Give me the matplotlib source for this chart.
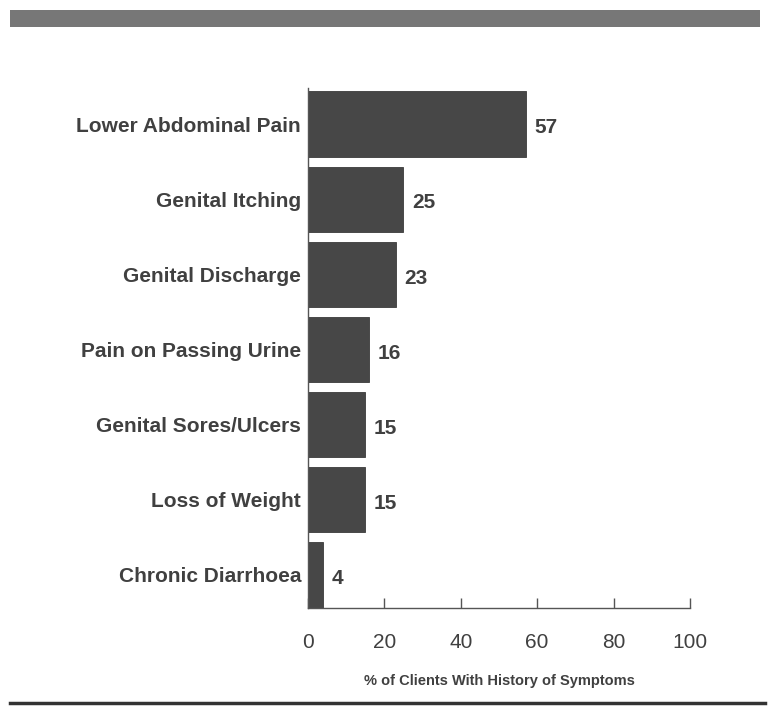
import matplotlib
matplotlib.use("Agg")
import matplotlib.pyplot as plt
from matplotlib.patches import Rectangle
from matplotlib.lines import Line2D

categories = ["Lower Abdominal Pain", "Genital Itching", "Genital Discharge",
              "Pain on Passing Urine", "Genital Sores/Ulcers", "Loss of Weight",
              "Chronic Diarrhoea"]
values = [57, 25, 23, 16, 15, 15, 4]
xticks = [0, 20, 40, 60, 80, 100]
xlabel = "% of Clients With History of Symptoms"

plt.rcParams['font.family'] = ['Liberation Sans', 'DejaVu Sans']

fig = plt.figure(figsize=(7.7, 7.07), dpi=100)
ax = fig.add_axes([0.4, 0.14, 0.496, 0.7355])

bar_color = "#474747"
text_color = "#404040"
ypos = list(range(len(categories)))
ax.barh(ypos, values, height=0.87, color=bar_color, edgecolor="#3a3a3a", linewidth=0.6)
for y, v in zip(ypos, values):
    ax.text(v + 2.3, y + 0.05, str(v), va="center", ha="left", fontsize=15,
            fontweight="bold", color=text_color)

ax.set_ylim(6.44, -0.48)
ax.set_xlim(0, 100)
ax.set_yticks(ypos)
ax.set_yticklabels(categories, fontsize=15, fontweight="bold", color=text_color)
ax.tick_params(axis="y", length=0, pad=5)
ax.set_xticks(xticks)
ax.set_xticklabels([str(t) for t in xticks], fontsize=15, color=text_color)
ax.tick_params(axis="x", direction="in", length=7, width=1, color="#555555", pad=18)
ax.set_xlabel(xlabel, fontsize=10.5, fontweight="bold", color=text_color, labelpad=16)
for s in ["top", "right"]:
    ax.spines[s].set_visible(False)
for s in ["left", "bottom"]:
    ax.spines[s].set_color("#555555")
    ax.spines[s].set_linewidth(1)

# decorative top band and bottom rule
fig.patches.append(Rectangle((10 / 770, 1 - 27 / 707), 750 / 770, 17 / 707,
                             transform=fig.transFigure, facecolor="#777777",
                             edgecolor="none"))
fig.lines.append(Line2D([10 / 770, 765 / 770], [1 - 703 / 707] * 2,
                        transform=fig.transFigure, color="#333333", linewidth=2.5))

fig.savefig("out.png", dpi=100)
